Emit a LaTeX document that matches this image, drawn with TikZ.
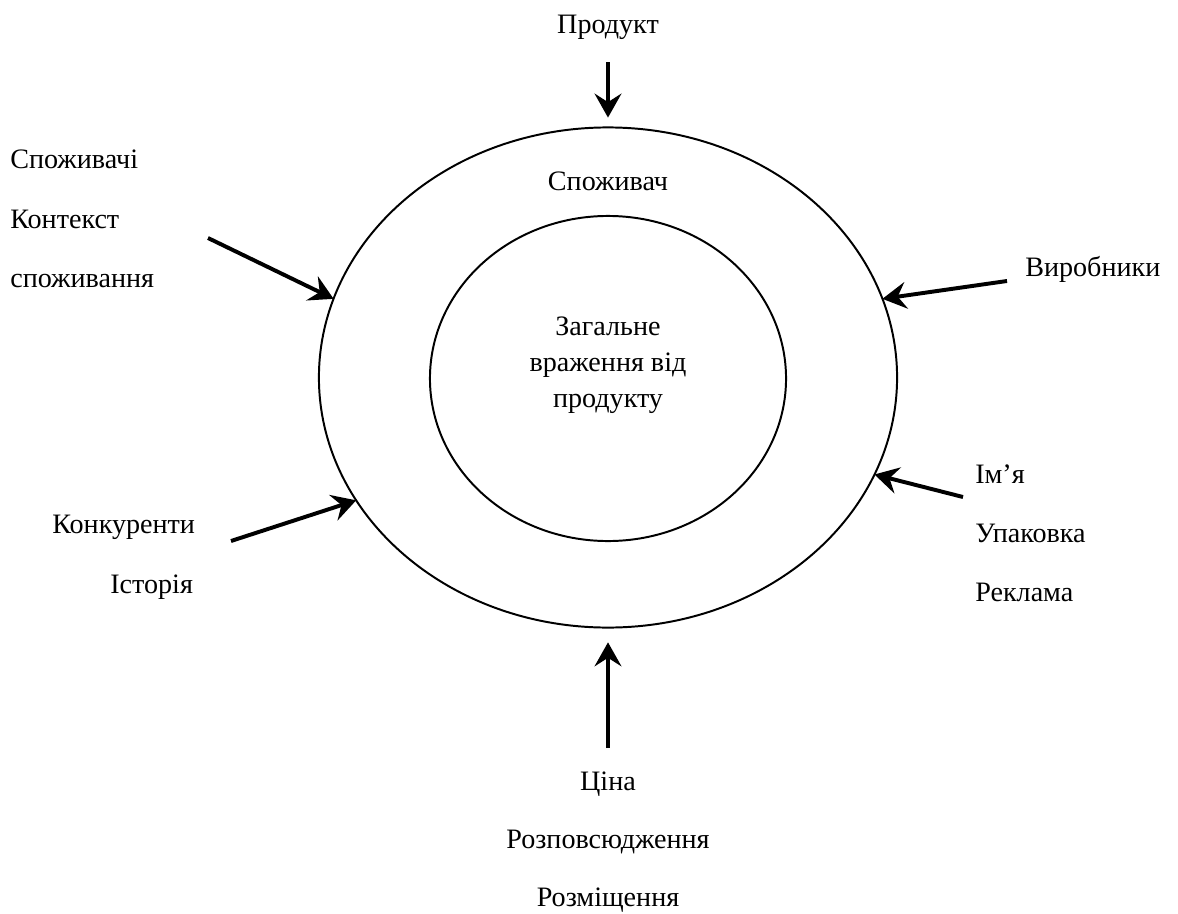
\documentclass[tikz,border=0pt]{standalone}
\usepackage{fontspec}
\setmainfont{Liberation Serif}
\usetikzlibrary{arrows.meta, shapes.geometric}

\begin{document}
\begin{tikzpicture}[x=0.025cm, y=-0.025cm,
  lbl/.style={font=\fontsize{20pt}{24pt}\selectfont, inner sep=0pt},
  ring/.style={draw, ellipse, line width=1.4pt, inner sep=0pt, outer sep=0pt},
  arr/.style={-{Stealth[length=17pt, width=19pt, inset=6pt]}, line width=2.8pt}]
\useasboundingbox (0,0) rectangle (1178,914);

\node[ring, minimum width=14.45cm, minimum height=12.5cm] (outer) at (608,377.5) {};
\node[ring, minimum width=8.9cm, minimum height=8.125cm] (inner) at (608,378.5) {};

\node[lbl, anchor=base] (spozh) at (608,190) {Споживач};
\node[lbl, anchor=base] (zag) at (608,335) {Загальне};
\node[lbl, anchor=base] (vrazh) at (608,371) {враження від};
\node[lbl, anchor=base] (prod) at (608,407) {продукту};

\node[lbl, anchor=base] (produkt) at (608,33) {Продукт};
\node[lbl, anchor=base west] (spozhi) at (10,168) {Споживачі};
\node[lbl, anchor=base west] (kont) at (10,228) {Контекст};
\node[lbl, anchor=base west] (spozhv) at (10,287) {споживання};
\node[lbl, anchor=base west] (vyrob) at (1025,276) {Виробники};
\node[lbl, anchor=base west] (imja) at (975,483) {Ім’я};
\node[lbl, anchor=base west] (upak) at (975,542) {Упаковка};
\node[lbl, anchor=base west] (rekl) at (975,601) {Реклама};
\node[lbl, anchor=base west] (konk) at (52,533) {Конкуренти};
\node[lbl, anchor=base west] (ist) at (110,593) {Історія};
\node[lbl, anchor=base] (tsina) at (608,790) {Ціна};
\node[lbl, anchor=base] (rozp) at (608,848) {Розповсюдження};
\node[lbl, anchor=base] (rozm) at (608,906) {Розміщення};

% free ends of the arrows
\coordinate (a1) at (608,62);
\coordinate (a2) at (208,238);
\coordinate (a3) at (1007,281);
\coordinate (a4) at (231,541);
\coordinate (a5) at (963,497);
\coordinate (a6) at (608,748);

\draw[arr, shorten >=7pt] (a1) -- (outer.north);
\draw[arr] (a2) -- (outer.164);
\draw[arr] (a3) -- (outer.16);
\draw[arr] (a4) -- (outer.206);
\draw[arr] (a5) -- (outer.340);
\draw[arr, shorten >=10.5pt] (a6) -- (outer.south);
\end{tikzpicture}
\end{document}
